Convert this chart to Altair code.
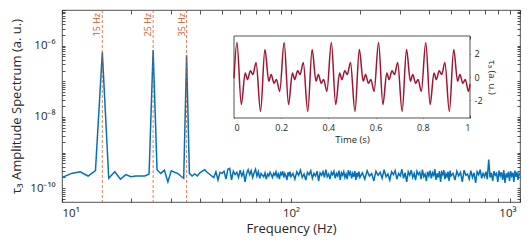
import altair as alt
import pandas as pd

# ---------------- data ----------------
# spectrum frequency grid (Hz)
freq_a = list(range(10, 101))          # 1 Hz steps
freq_b = list(range(102, 201, 2))      # 2 Hz steps
freq_c = list(range(205, 501, 5))      # 5 Hz steps
freq_d = list(range(510, 1001, 10))    # 10 Hz steps

# amplitude values in units of 1e-10 (a. u.)
amp_a = [
    2.0, 2.6, 2.9, 2.2, 3.1, 6500, 1.9, 2.9, 1.8, 2.4,
    2.1, 2.2, 2.2, 2.2, 2.5, 7500, 3.3, 2.6, 3.2, 1.5,
    3.1, 2.8, 2.6, 2.2, 1.9, 5400, 2.6, 2.2, 2.5, 2.2,
    2.7, 3.0, 3.3, 2.8, 2.5, 2.2, 2.0, 2.9, 1.7, 2.8,
    2.6, 3.0, 1.8, 3.4, 3.6, 1.7, 3.0, 2.4, 2.8, 2.0,
    3.2, 2.2, 2.9, 1.5, 2.6, 3.3, 2.4, 3.1, 2.0, 2.7,
    3.4, 2.2, 2.9, 1.9, 2.6, 2.3, 2.1, 2.7, 1.8, 2.5,
    2.2, 2.8, 2.4, 2.0, 2.6, 2.3, 2.9, 2.1, 2.5, 1.8,
    2.7, 2.4, 3.0, 2.0, 2.6, 2.2, 1.7, 2.8, 2.3, 2.9,
    2.1,
]
amp_b = [
    2.6, 1.8, 2.9, 2.3, 3.2, 2.0, 2.5, 1.7, 2.8, 2.4,
    3.1, 1.9, 2.6, 2.2, 3.0, 1.6, 2.7, 2.3, 2.9, 2.0,
    3.3, 2.1, 2.5, 1.8, 2.8, 2.4, 3.0, 1.9, 2.6, 2.2,
    3.1, 1.7, 2.7, 2.3, 2.9, 2.0, 2.5, 1.8, 3.2, 2.4,
    2.8, 1.9, 2.6, 2.1, 3.0, 1.7, 2.7, 2.2, 2.9, 2.0,
]
amp_c = [
    2.7, 1.8, 3.1, 2.2, 2.6, 1.6, 3.0, 2.3, 2.8, 1.9,
    3.3, 2.1, 2.5, 1.7, 2.9, 2.4, 3.1, 1.8, 2.6, 2.2,
    3.4, 1.9, 2.7, 1.5, 2.9, 2.3, 3.2, 2.0, 2.6, 1.7,
    3.0, 2.4, 2.8, 1.8, 3.3, 2.1, 2.5, 1.6, 2.9, 2.2,
    3.1, 1.9, 2.7, 2.3, 3.4, 1.7, 2.6, 2.0, 3.0, 1.5,
    2.8, 2.4, 3.2, 1.8, 2.5, 2.1, 2.9, 1.6, 3.1, 2.2,
]
amp_d = [
    2.6, 1.7, 3.0, 2.2, 2.8, 1.5, 3.2, 2.3, 2.5, 1.8,
    3.1, 2.0, 2.7, 1.4, 2.9, 2.4, 3.3, 1.9, 2.6, 2.1,
    2.9, 1.8, 6.4, 2.0, 2.7, 1.6, 3.0, 2.3, 2.6, 1.5,
    3.1, 2.2, 2.8, 1.7, 3.2, 1.4, 2.6, 2.0, 2.9, 1.6,
    3.0, 2.2, 2.7, 1.5, 3.1, 2.1, 2.8, 1.7, 2.6, 2.3,
]
AMP_UNIT = 1e-10

peak_freqs = [15, 25, 35]
peak_labels = ["15 Hz", "25 Hz", "35 Hz"]

# inset time signal (s, a. u.)
sig_t = [
    0.0, 0.0125, 0.031, 0.0475, 0.0575, 0.0695, 0.080, 0.0935,
    0.1125, 0.131, 0.1475, 0.1575, 0.1695, 0.180, 0.1935,
    0.2125, 0.231, 0.2475, 0.2575, 0.2695, 0.280, 0.2935,
    0.3125, 0.331, 0.3475, 0.3575, 0.3695, 0.380, 0.3935,
    0.4125, 0.431, 0.4475, 0.4575, 0.4695, 0.480, 0.4935,
    0.5125, 0.531, 0.5475, 0.5575, 0.5695, 0.580, 0.5935,
    0.6125, 0.631, 0.6475, 0.6575, 0.6695, 0.680, 0.6935,
    0.7125, 0.731, 0.7475, 0.7575, 0.7695, 0.780, 0.7935,
    0.8125, 0.831, 0.8475, 0.8575, 0.8695, 0.880, 0.8935,
    0.9125, 0.931, 0.9475, 0.9575, 0.9695, 0.980, 0.9935,
    1.0,
]
sig_v = [
    -0.1, 2.94, -2.34, 0.35, -0.22, 0.53, 0.21, 1.23,
    -2.94, 2.34, -0.35, 0.22, -0.53, -0.21, -1.23,
    2.94, -2.34, 0.35, -0.22, 0.53, 0.21, 1.23,
    -2.94, 2.34, -0.35, 0.22, -0.53, -0.21, -1.23,
    2.94, -2.34, 0.35, -0.22, 0.53, 0.21, 1.23,
    -2.94, 2.34, -0.35, 0.22, -0.53, -0.21, -1.23,
    2.94, -2.34, 0.35, -0.22, 0.53, 0.21, 1.23,
    -2.94, 2.34, -0.35, 0.22, -0.53, -0.21, -1.23,
    2.94, -2.34, 0.35, -0.22, 0.53, 0.21, 1.23,
    -2.94, 2.34, -0.35, 0.22, -0.53, -0.21, -1.23,
    -0.6,
]

# axis ticks / labels
x_major_labels = ["10¹", "10²", "10³"]
y_major_labels = ["10⁻¹⁰", "10⁻⁸", "10⁻⁶"]
x_major = [10, 100, 1000]
y_major = [1e-10, 1e-8, 1e-6]
t_ticks = [0, 0.2, 0.4, 0.6, 0.8, 1]
t_labels = ["0", "0.2", "0.4", "0.6", "0.8", "1"]
v_ticks = [-2, 0, 2]
v_labels = ["-2", "0", "2"]
t_domain = [0, 1]
v_domain = [-3.5, 3.5]

assert len(freq_a) == len(amp_a) and len(freq_b) == len(amp_b)
assert len(freq_c) == len(amp_c) and len(freq_d) == len(amp_d)
assert len(sig_t) == len(sig_v)

# ---------------- tables ----------------
spec_df = pd.DataFrame({
    "f": freq_a + freq_b + freq_c + freq_d,
    "amp": [a * AMP_UNIT for a in amp_a + amp_b + amp_c + amp_d],
})
peaks_df = pd.DataFrame({"f": peak_freqs, "label": peak_labels})
sig_df = pd.DataFrame({"t": sig_t, "v": sig_v})
box_df = pd.DataFrame({"t0": [t_domain[0]], "t1": [t_domain[1]],
                       "v0": [v_domain[0]], "v1": [v_domain[1]]})

# minor tick positions
x_ticks = [m * 10 ** e for e in (1, 2) for m in range(1, 10)] + [1000]
y_ticks = [m * 10.0 ** e for e in range(-11, -5) for m in range(1, 10)
           if 4.1e-11 <= m * 10.0 ** e <= 1e-5] + [1e-5]

def label_expr(vals, labs, key="datum.value"):
    expr = "''"
    for v, l in zip(reversed(vals), reversed(labs)):
        expr = f"{key} == {v} ? '{l}' : {expr}"
    return expr

x_lab_expr = label_expr([1, 2, 3], x_major_labels, "round(log(datum.value)/LN10)")
y_lab_expr = label_expr([-10, -8, -6], y_major_labels, "round(log(datum.value)/LN10)")
t_lab_expr = label_expr(t_ticks, t_labels)
v_lab_expr = label_expr(v_ticks, v_labels)

W, H = 458, 192
INK = "#262626"
FONT = "Open Sans"

xs = alt.Scale(type="log", domain=[10, 1000], nice=False)
ys = alt.Scale(type="log", domain=[4.1e-11, 1e-5], nice=False)

# inset placement within the plot area
IX0, IX1, IY0, IY1 = 172, 408, 26, 108
ts = alt.Scale(domain=t_domain, range=[IX0, IX1], nice=False, zero=False)
vs = alt.Scale(domain=v_domain, range=[IY1, IY0], nice=False, zero=False)

def tick_axis(orient, offset, values, size):
    return alt.Axis(orient=orient, offset=offset, values=values, labels=False,
                    tickSize=size, tickWidth=0.8, domain=False, grid=False,
                    title=None, tickColor=INK)

# ---------------- main spectrum ----------------
L1 = alt.Chart(spec_df).mark_line(color="#0072BD", strokeWidth=1.5, clip=True).encode(
    x=alt.X("f:Q", scale=xs, axis=alt.Axis(
        orient="bottom", values=x_major, labelExpr=x_lab_expr, tickSize=0,
        domain=False, grid=False, labelPadding=5, labelFontSize=11.5,
        labelOffset={"condition": {"test": "datum.value == 1000", "value": -4}, "value": 0},
        title="Frequency (Hz)", titleFontSize=13, titlePadding=4)),
    y=alt.Y("amp:Q", scale=ys, axis=alt.Axis(
        orient="left", values=y_major, labelExpr=y_lab_expr, tickSize=0,
        domain=False, grid=False, labelPadding=7, labelFontSize=11.5,
        title="τ₃ Amplitude Spectrum (a. u.)", titleFontSize=13,
        titleX=-42, titleBaseline="alphabetic")),
)

L2 = alt.Chart(peaks_df).mark_rule(color="#D95319", strokeDash=[3, 2],
                                   strokeWidth=1, opacity=0.75).encode(
    x=alt.X("f:Q", scale=xs, axis=None),
)

L3 = alt.Chart(peaks_df).mark_text(color="#D95319", angle=270, align="right",
                                   baseline="bottom", fontSize=9, font=FONT).encode(
    x=alt.X("f:Q", scale=xs, axis=None),
    y=alt.value(3),
    text="label:N",
)

T1 = alt.Chart(spec_df).mark_point(opacity=0).encode(
    x=alt.X("f:Q", scale=xs, axis=tick_axis("top", -H, x_ticks, 4)),
    y=alt.Y("amp:Q", scale=ys, axis=tick_axis("right", -W, y_ticks, 3)),
)
T2 = alt.Chart(spec_df).mark_point(opacity=0).encode(
    x=alt.X("f:Q", scale=xs, axis=tick_axis("bottom", -H, x_ticks, 4)),
    y=alt.Y("amp:Q", scale=ys, axis=tick_axis("left", -W, y_ticks, 3)),
)

main = alt.layer(L1, L2, L3, T1, T2).resolve_axis(x="independent", y="independent")

# ---------------- inset ----------------
I1 = alt.Chart(box_df).mark_rect(fill="white", stroke=INK, strokeWidth=0.8).encode(
    x=alt.X("t0:Q", scale=ts, axis=alt.Axis(
        orient="bottom", offset=IY1 - H, values=t_ticks, labelExpr=t_lab_expr,
        tickSize=0, domain=False, grid=False, labelPadding=5, labelFontSize=9,
        title="Time (s)", titleFontSize=9.5, titlePadding=2)),
    x2="t1:Q",
    y=alt.Y("v0:Q", scale=vs, axis=alt.Axis(
        orient="right", offset=IX1 - W, values=v_ticks, labelExpr=v_lab_expr,
        tickSize=0, domain=False, grid=False, labelPadding=4, labelFontSize=9,
        title="τ₃ (a. u.)", titleFontSize=9.5, titlePadding=4)),
    y2="v1:Q",
)
I2 = alt.Chart(sig_df).mark_line(color="#A2142F", strokeWidth=1.5,
                                 interpolate="monotone").encode(
    x=alt.X("t:Q", scale=ts, axis=tick_axis("top", -IY1, t_ticks, 3)),
    y=alt.Y("v:Q", scale=vs, axis=tick_axis("left", -IX1, v_ticks, 3)),
)
I3 = alt.Chart(sig_df).mark_point(opacity=0).encode(
    x=alt.X("t:Q", scale=ts, axis=tick_axis("bottom", IY0 - H, t_ticks, 3)),
    y=alt.Y("v:Q", scale=vs, axis=tick_axis("right", IX0 - W, v_ticks, 3)),
)
inset = alt.layer(I1, I2, I3).resolve_axis(x="independent", y="independent")

chart = alt.layer(main, inset).resolve_scale(
    x="independent", y="independent"
).resolve_axis(
    x="independent", y="independent"
).properties(
    width=W, height=H, autosize="none",
    padding={"left": 54, "top": 2, "right": 4, "bottom": 35},
).configure_view(
    stroke=INK, strokeWidth=0.8
).configure_axis(
    labelFont=FONT, titleFont=FONT, labelColor=INK, titleColor=INK,
    tickColor=INK, titleFontWeight="normal",
)

chart.save("out.html", embed_options={"renderer": "svg", "actions": False})
